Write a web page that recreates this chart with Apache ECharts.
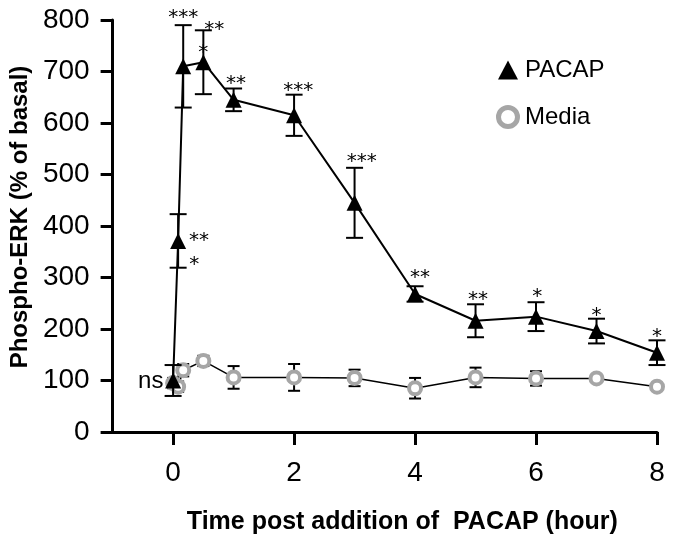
<!DOCTYPE html>
<html>
<head>
<meta charset="utf-8">
<script src="https://cdn.jsdelivr.net/npm/echarts@6/dist/echarts.min.js"></script>
<style>
  html, body { margin: 0; padding: 0; background: #fff; }
  #chart { width: 680px; height: 540px; }
</style>
</head>
<body>
<div id="chart"></div>
<script>
// time points (hours) and values
var times = [0, 0.083, 0.167, 0.5, 1, 2, 3, 4, 5, 6, 7, 8];
var pacapMean = [100, 371, 710, 718, 645, 615, 445, 268, 216, 224, 196, 154];
var pacapErr  = [30, 52, 80, 62, 22, 40, 68, 15, 32, 28, 24, 24];
var mediaMean = [95, 88, 120, 138, 106, 106, 105, 85, 106, 104, 104, 88];
var mediaErr  = [10, 10, 12, 10, 22, 26, 16, 20, 19, 14, 5, 0];
var xTicks = [0, 2, 4, 6, 8];

// significance marks: [x, y, text]
var stars = [
    [0.167, 804, '***'], [0.68, 781, '**'], [0.5, 736, '*'],
    [1.04, 676, '**'], [2.07, 662, '***'], [3.12, 524, '***'],
    [4.08, 299, '**'], [5.04, 256, '**'], [6.02, 262, '*'],
    [7.0, 225, '*'], [8.0, 184, '*'],
    [0.43, 371, '**'], [0.35, 324, '*']
];
var nsMark = [[-0.37, 99, 'ns']];

function pts(ys) {
    return times.map(function (t, i) { return [t, ys[i]]; });
}
function errPts(ys, es) {
    return times.map(function (t, i) { return [t, ys[i], es[i]]; });
}

function errorBars(capW) {
    return function (params, api) {
        var x = api.value(0), y = api.value(1), e = api.value(2);
        if (!e) return null;
        var top = api.coord([x, y + e]);
        var bot = api.coord([x, y - e]);
        var st = { stroke: '#000', lineWidth: 2 };
        var h = capW / 2;
        return {
            type: 'group',
            children: [
                { type: 'line', shape: { x1: top[0], y1: top[1], x2: bot[0], y2: bot[1] }, style: st },
                { type: 'line', shape: { x1: top[0] - h, y1: top[1], x2: top[0] + h, y2: top[1] }, style: st },
                { type: 'line', shape: { x1: bot[0] - h, y1: bot[1], x2: bot[0] + h, y2: bot[1] }, style: st }
            ]
        };
    };
}

function textMarks(list, font) {
    return function (params, api) {
        var p = api.coord([api.value(0), api.value(1)]);
        return {
            type: 'text',
            x: p[0], y: p[1],
            style: {
                text: list[params.dataIndex][2],
                font: font, fill: '#000', align: 'center', verticalAlign: 'middle'
            }
        };
    };
}

var myChart = echarts.init(document.getElementById('chart'));

var option = {
    animation: false,
    grid: { left: 112, right: 23, top: 20, bottom: 108 },
    legend: {
        orient: 'vertical',
        left: 491, top: 53,
        itemWidth: 20, itemHeight: 19, itemGap: 23,
        textStyle: { fontFamily: 'Liberation Sans, Arial, sans-serif', fontSize: 24, color: '#000', padding: [0, 0, 0, 2] },
        data: [
            { name: 'PACAP', icon: 'triangle', itemStyle: { color: '#000', borderWidth: 0 } },
            { name: 'Media', icon: 'circle', itemStyle: { color: '#fff', borderColor: '#a6a6a6', borderWidth: 5 } }
        ]
    },
    xAxis: {
        type: 'value',
        min: -1, max: 8,
        name: 'Time post addition of  PACAP (hour)',
        nameLocation: 'middle',
        nameGap: 78,
        nameTextStyle: { fontFamily: 'Liberation Sans, Arial, sans-serif', fontWeight: 'bold', fontSize: 25, color: '#000', padding: [0, 0, 0, 35] },
        splitLine: { show: false },
        axisLine: { onZero: false, lineStyle: { color: '#000', width: 3 } },
        axisTick: { customValues: xTicks, length: 13, lineStyle: { color: '#000', width: 3 } },
        axisLabel: {
            customValues: xTicks, margin: 27,
            fontFamily: 'Liberation Sans, Arial, sans-serif', fontSize: 28, color: '#000'
        }
    },
    yAxis: {
        type: 'value',
        min: 0, max: 800, interval: 100,
        name: 'Phospho-ERK (% of basal)',
        nameLocation: 'middle',
        nameGap: 68,
        nameTextStyle: { fontFamily: 'Liberation Sans, Arial, sans-serif', fontWeight: 'bold', fontSize: 24, color: '#000', padding: [0, 0, 0, 18] },
        splitLine: { show: false },
        axisLine: { show: true, onZero: false, lineStyle: { color: '#000', width: 3 } },
        axisTick: { show: true, length: 12, lineStyle: { color: '#000', width: 3 } },
        axisLabel: {
            margin: 23,
            fontFamily: 'Liberation Sans, Arial, sans-serif', fontSize: 28, color: '#000'
        }
    },
    series: [
        {
            name: 'mediaErr', type: 'custom', renderItem: errorBars(12),
            data: errPts(mediaMean, mediaErr), z: 2, silent: true
        },
        {
            name: 'Media', type: 'line', data: pts(mediaMean),
            symbol: 'circle', symbolSize: 12,
            lineStyle: { color: '#000', width: 1.5 },
            itemStyle: { color: '#fff', borderColor: '#a6a6a6', borderWidth: 4 },
            z: 3
        },
        {
            name: 'pacapErr', type: 'custom', renderItem: errorBars(17),
            data: errPts(pacapMean, pacapErr), z: 4, silent: true
        },
        {
            name: 'PACAP', type: 'line', data: pts(pacapMean),
            symbol: 'triangle', symbolSize: 16,
            lineStyle: { color: '#000', width: 2 },
            itemStyle: { color: '#000' },
            z: 5
        },
        {
            name: 'stars', type: 'custom', renderItem: textMarks(stars, '20px DejaVu Sans'),
            data: stars, z: 6, silent: true
        },
        {
            name: 'ns', type: 'custom', renderItem: textMarks(nsMark, '24px Liberation Sans'),
            data: nsMark, z: 6, silent: true
        }
    ]
};

myChart.setOption(option);
</script>
</body>
</html>
